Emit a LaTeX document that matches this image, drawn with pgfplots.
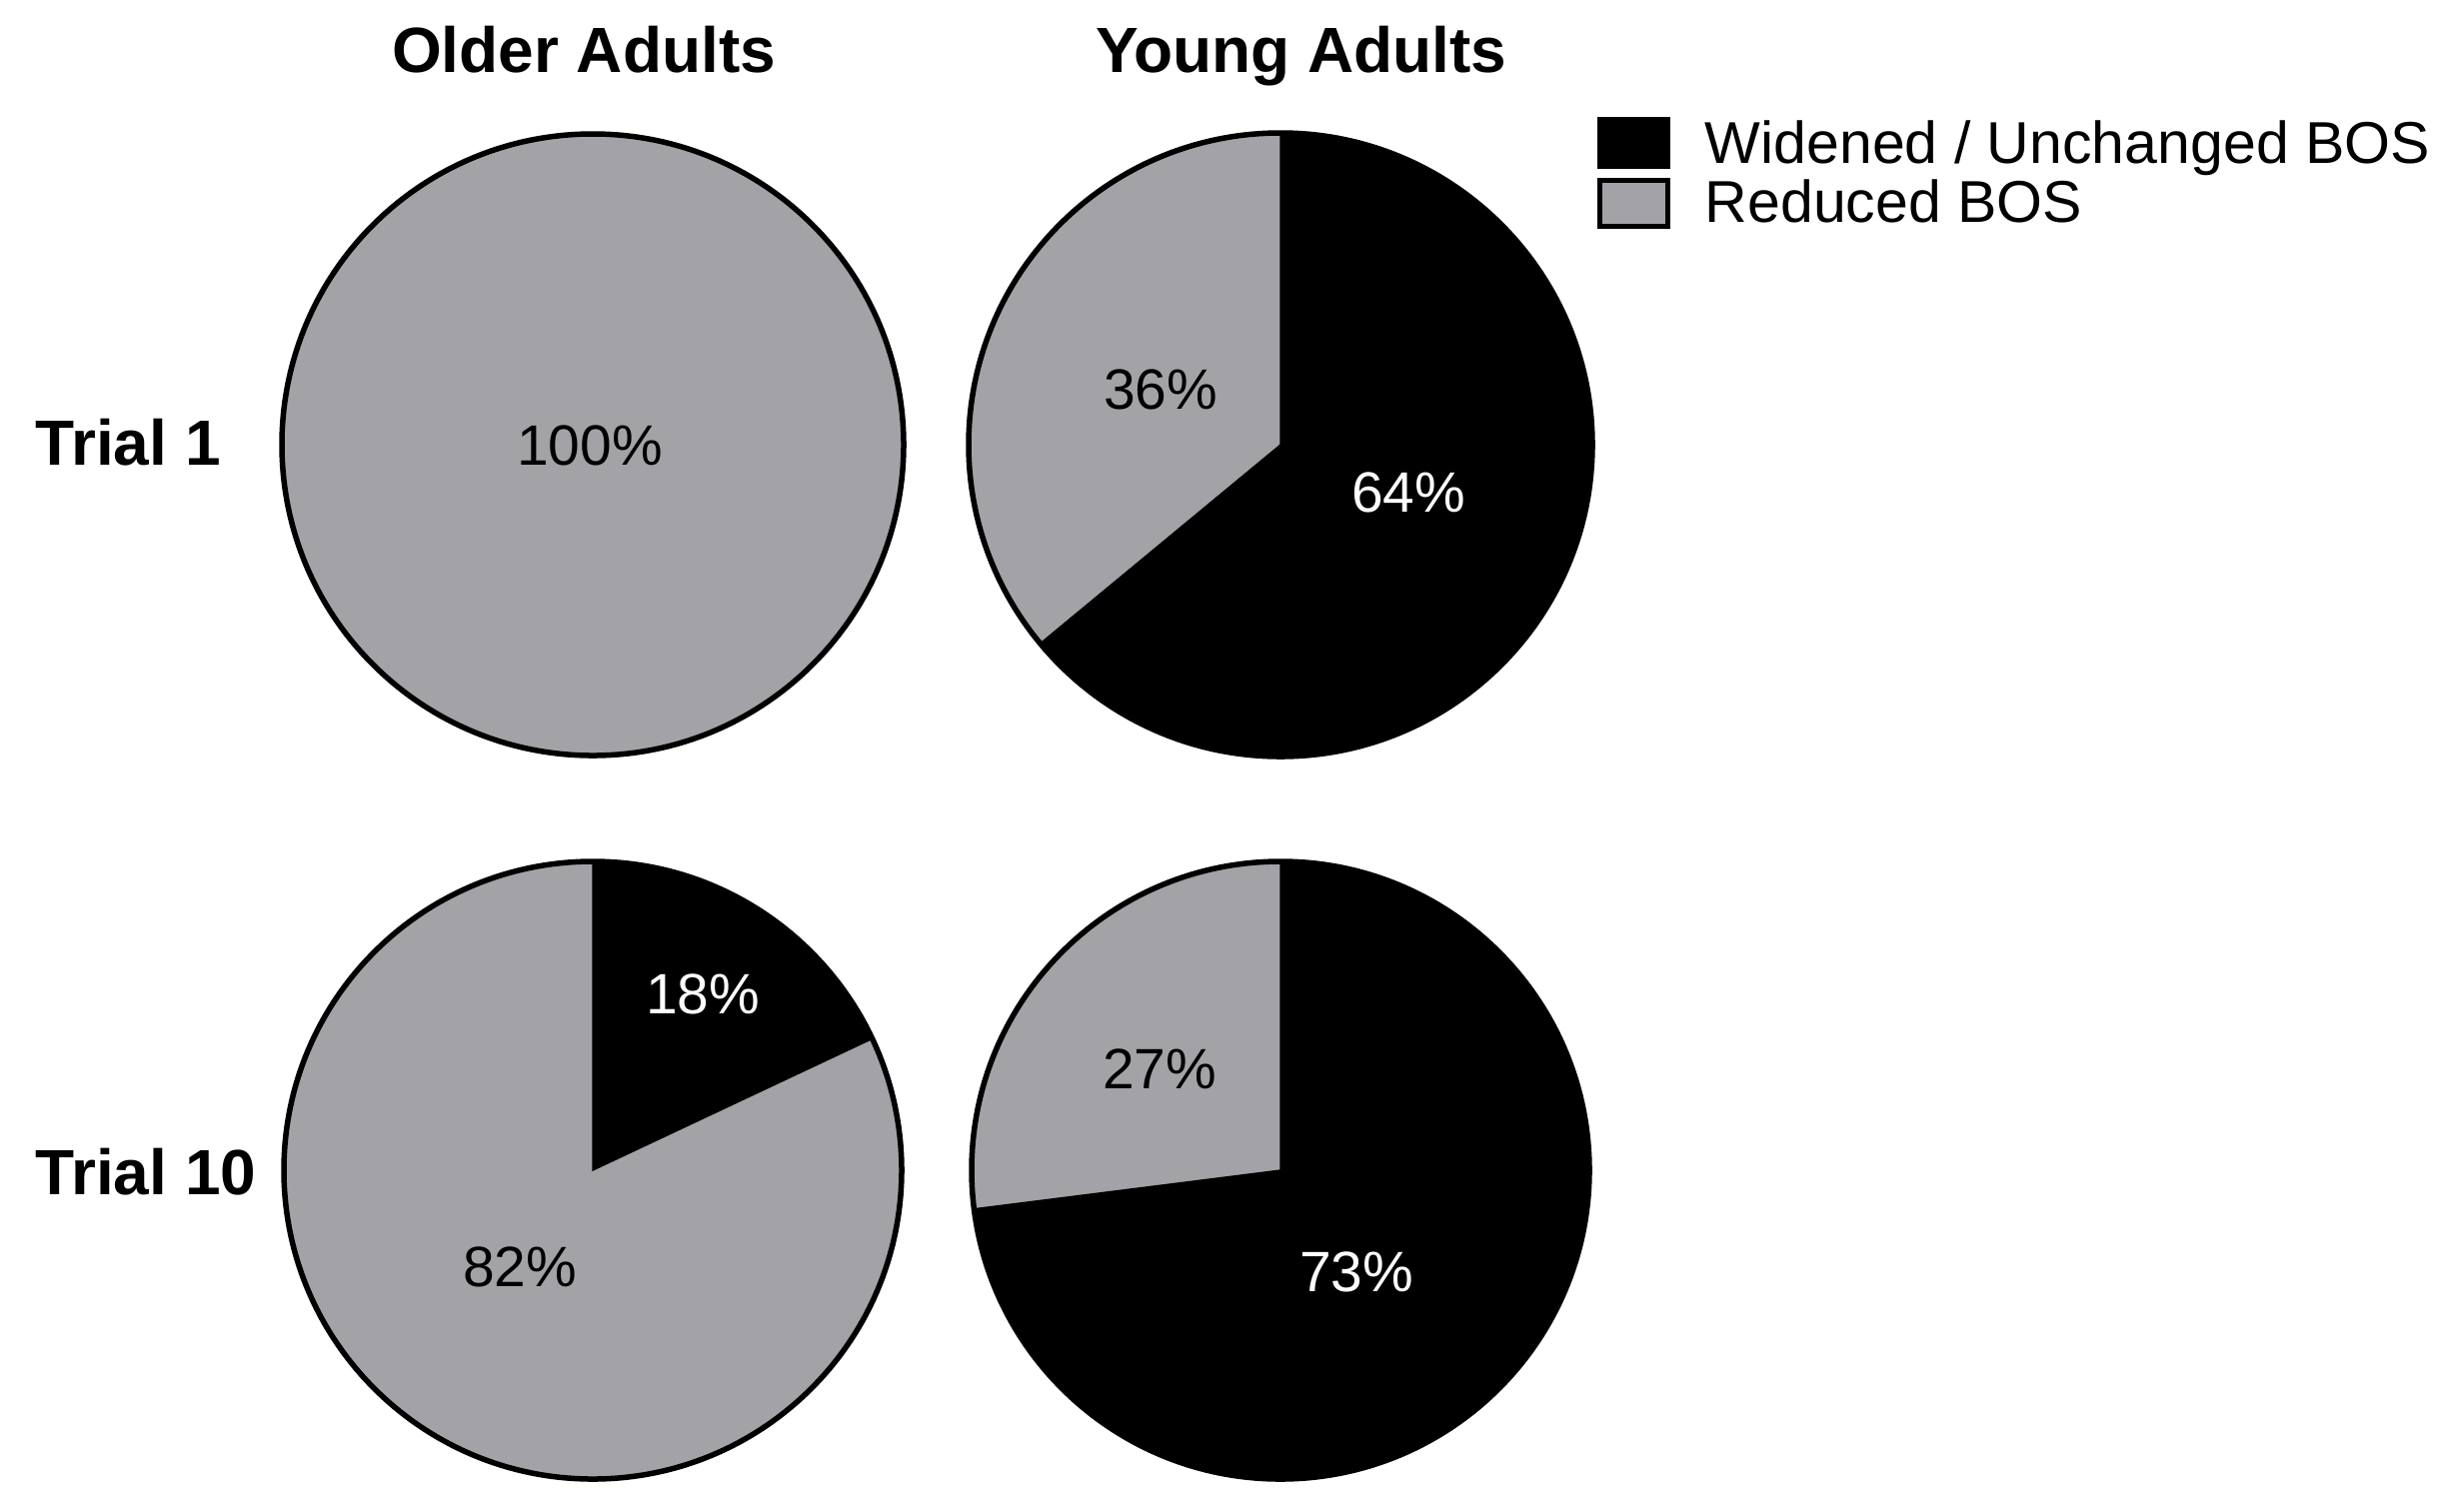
\documentclass[border=0pt]{standalone}
\usepackage{fontspec}
\setmainfont{Liberation Sans}
\usepackage{pgfplots}
\usepackage{pgfplotstable}
\pgfplotsset{compat=1.18}
\definecolor{PieGray}{HTML}{A3A2A6}

% empty plot mark, so only the scatter code draws
\pgfdeclareplotmark{blank}{}

\newcommand{\titlefont}{\fontsize{18.2}{21}\selectfont\bfseries}
\newcommand{\trialfont}{\fontsize{18.2}{21}\selectfont\bfseries}
\newcommand{\legfont}{\fontsize{16.8}{19}\selectfont}
\newcommand{\pctfont}{\fontsize{16.2}{19}\selectfont}

% pie centres and radii in pixels, share of widened / unchanged BOS in %
\pgfplotstableread{
cx   cy   r   widened
593  445  311 0
1281 445  312 64
593  1171 309 18
1281 1171 309 73
}\pietable

\begin{document}
\begin{tikzpicture}
\begin{axis}[
    scale only axis,
    width=244.9mm, height=151.2mm,
    xmin=0, xmax=2449, ymin=0, ymax=1512,
    y dir=reverse,
    hide axis, clip=false,
]
\path (axis cs:0,0) rectangle (axis cs:2449,1512);

% pies: grey disc, black wedge clockwise from 12 o'clock
\addplot[scatter, only marks, mark=blank,
    visualization depends on={\thisrow{r} \as \rpx},
    visualization depends on={\thisrow{widened} \as \wpct},
    scatter/@pre marker code/.code={%
        \draw[fill=PieGray, line width=0.55mm] (0pt,0pt) circle[radius={\rpx*0.1mm}];
        \ifdim\wpct pt>0.5pt
            \fill[black]
                (0pt,0pt) -- (90:{\rpx*0.1mm})
                arc[start angle=90, delta angle={-3.6*\wpct}, radius={\rpx*0.1mm}]
                -- cycle;
        \fi
    },
    scatter/@post marker code/.code={},
] table[x=cx, y=cy] {\pietable};

% percentage labels on grey
\addplot[only marks, mark=blank, nodes near coords, point meta=explicit symbolic,
    nodes near coords style={anchor=center, inner sep=0pt, font=\pctfont, text=black}]
    coordinates {(590,446)[100\%] (1161,390)[36\%] (520,1268)[82\%] (1160,1070)[27\%]};
% percentage labels on black
\addplot[only marks, mark=blank, nodes near coords, point meta=explicit symbolic,
    nodes near coords style={anchor=center, inner sep=0pt, font=\pctfont, text=white}]
    coordinates {(1409,493)[64\%] (703,995)[18\%] (1357,1273)[73\%]};

% column and row headings
\node[anchor=base, inner sep=0pt, font=\titlefont] at (axis cs:584,72) {Older Adults};
\node[anchor=base, inner sep=0pt, font=\titlefont] at (axis cs:1302,72) {Young Adults};
\node[anchor=base west, inner sep=0pt, font=\trialfont] at (axis cs:35,465) {Trial 1};
\node[anchor=base west, inner sep=0pt, font=\trialfont] at (axis cs:35,1195) {Trial 10};

% legend
\draw[fill=black, line width=0.5mm] (axis cs:1600,119) rectangle (axis cs:1668,166);
\draw[fill=PieGray, line width=0.5mm] (axis cs:1600,180) rectangle (axis cs:1668,226);
\node[anchor=base west, inner sep=0pt, font=\legfont] at (axis cs:1705,163) {Widened / Unchanged BOS};
\node[anchor=base west, inner sep=0pt, font=\legfont] at (axis cs:1705,222) {Reduced BOS};
\end{axis}
\end{tikzpicture}
\end{document}
